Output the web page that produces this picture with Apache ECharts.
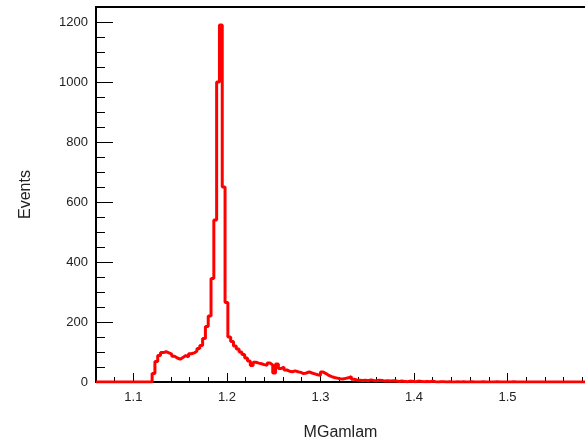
<!DOCTYPE html>
<html>
<head>
<meta charset="utf-8">
<script src="https://cdn.jsdelivr.net/npm/echarts@6/dist/echarts.min.js"></script>
<style>
  html, body { margin: 0; padding: 0; background: #fff; }
  #box { width: 585px; height: 446px; }
</style>
</head>
<body>
<div id="box"></div>
<script>
// histogram binning (MGamlam)
var xLow = 1.06;
var binWidth = 0.003;
var xTickLabels = [1.1, 1.2, 1.3, 1.4, 1.5];
var yTickLabels = [0, 200, 400, 600, 800, 1000, 1200];
// bin contents
var counts = [
    0, 0, 0, 0, 0, 0, 0, 0, 0, 0,
    0, 0, 0, 0, 0, 0, 0, 0, 0, 0,
    28, 68, 88, 98, 101, 97, 93, 86, 80, 76,
    82, 88, 84, 94, 97, 103, 112, 122, 145, 185,
    220, 345, 540, 1000, 1190, 650, 265, 150, 135, 120,
    110, 100, 92, 80, 70, 55, 66, 63, 61, 58,
    56, 63, 57, 30, 60, 45, 50, 40, 36, 34,
    37, 34, 32, 28, 30, 34, 30, 27, 24, 22,
    33, 28, 22, 18, 15, 13, 11, 10, 12, 14,
    18, 9, 7, 6, 5, 6, 4, 7, 5, 4,
    6, 5, 3, 4, 3, 4, 3, 2, 3, 2,
    1, 3, 2, 1, 3, 2, 1, 2, 1, 3,
    1, 0, 1, 1, 0, 1, 0, 0, 1, 0,
    1, 0, 0, 1, 0, 0, 0, 1, 0, 0,
    0, 0, 1, 0, 0, 0, 0, 0, 1, 0,
    0, 0, 0, 0, 0, 0, 0, 0, 0, 0,
    0, 0, 0, 0, 0, 0, 0, 0, 0, 0,
    0, 0, 0, 0, 0, 0, 0, 0, 0, 0
];
var xHigh = xLow + counts.length * binWidth;

// step points at the low edge of each bin, plus the closing edge
var points = counts.map(function (c, i) {
    return [xLow + i * binWidth, c];
});
points.push([xHigh, counts[counts.length - 1]]);

var chart = echarts.init(document.getElementById('box'));
var labelFont = { color: '#222', fontSize: 13, fontFamily: 'Liberation Sans, Arial, sans-serif' };

var option = {
    animation: false,
    grid: {
        left: 96, top: 7, bottom: 64, right: -16,
        show: true, borderColor: '#000', borderWidth: 2,
        outerBoundsMode: 'none'
    },
    xAxis: [
        {
            type: 'value',
            min: xLow, max: xHigh,
            name: 'MGamlam',
            nameLocation: 'middle',
            nameGap: 43,
            nameTextStyle: { color: '#222', fontSize: 16, fontFamily: 'Liberation Sans, Arial, sans-serif', padding: [0, 16, 0, 0] },
            axisLine: { lineStyle: { color: '#000', width: 2 } },
            axisTick: { inside: true, length: 9, customValues: xTickLabels, lineStyle: { color: '#000' } },
            axisLabel: Object.assign({ margin: 9, customValues: xTickLabels, formatter: function (v) { return v.toFixed(1); } }, labelFont),
            splitLine: { show: false }
        },
        {
            // minor ticks every 0.02
            type: 'value',
            position: 'bottom',
            min: xLow, max: xHigh,
            interval: 0.02,
            axisLine: { show: false },
            axisTick: { inside: true, length: 5, lineStyle: { color: '#000' } },
            axisLabel: { show: false },
            splitLine: { show: false }
        }
    ],
    yAxis: {
        type: 'value',
        min: 0, max: 1250,
        interval: 200,
        name: 'Events',
        nameLocation: 'middle',
        nameGap: 62,
        nameTextStyle: { color: '#222', fontSize: 16, fontFamily: 'Liberation Sans, Arial, sans-serif' },
        axisLine: { show: true, lineStyle: { color: '#000', width: 2 } },
        axisTick: { inside: true, length: 17, lineStyle: { color: '#000' } },
        minorTick: { show: true, splitNumber: 4, length: 9, lineStyle: { color: '#000' } },
        axisLabel: Object.assign({ margin: 8, customValues: yTickLabels, formatter: function (v) { return String(v); } }, labelFont),
        splitLine: { show: false }
    },
    series: [
        {
            type: 'line',
            xAxisIndex: 0,
            step: 'end',
            data: points,
            showSymbol: false,
            lineStyle: { color: '#ff0000', width: 3 },
            clip: true
        }
    ]
};
chart.setOption(option);
</script>
</body>
</html>
